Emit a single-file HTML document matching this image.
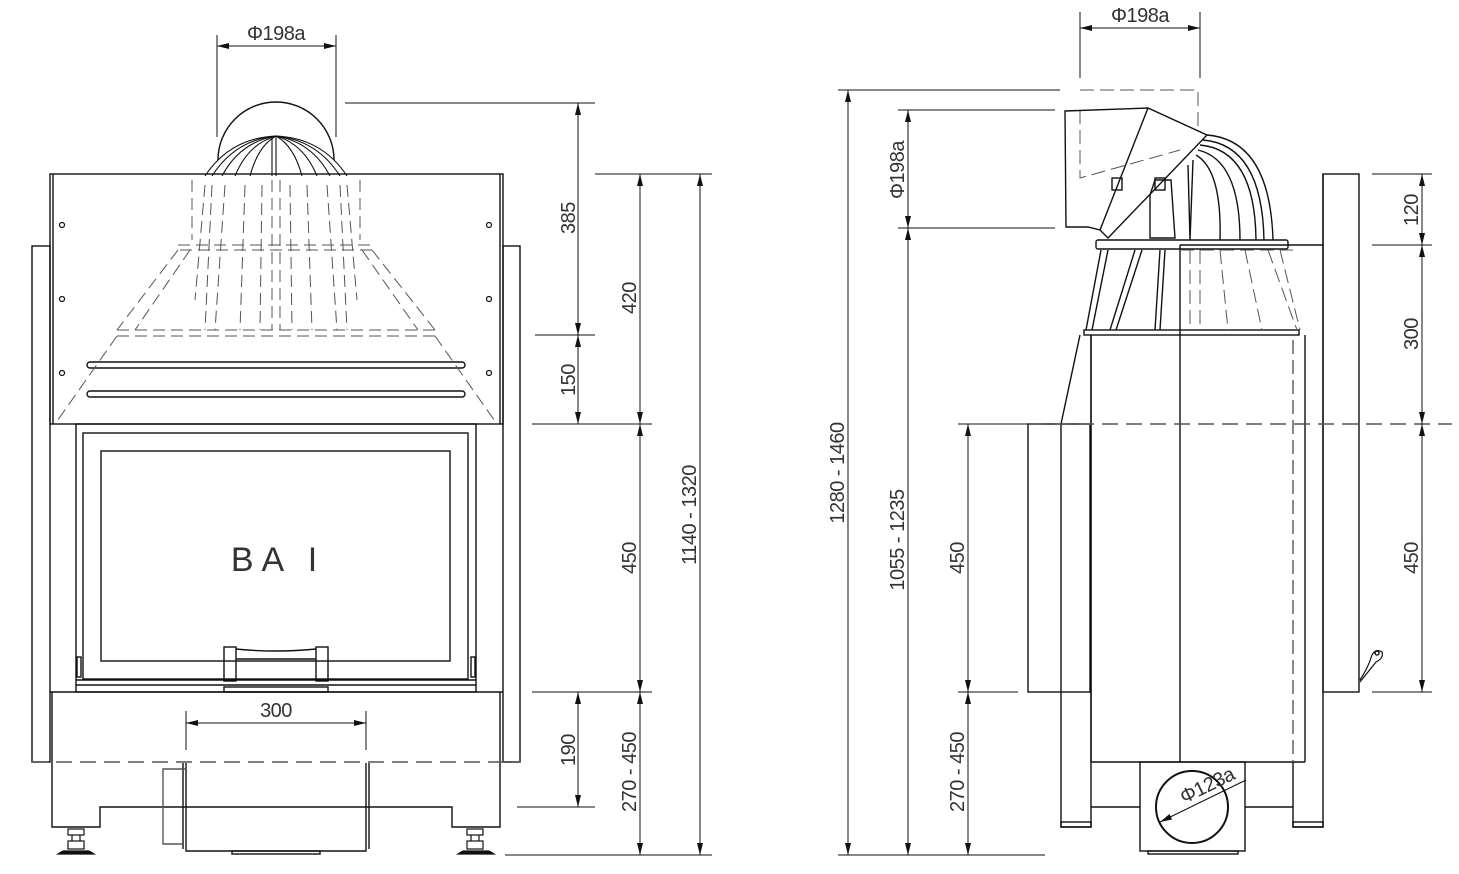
<!DOCTYPE html>
<html><head><meta charset="utf-8"><style>
html,body{margin:0;padding:0;background:#fff}
svg{display:block}
text{font-family:"Liberation Sans",sans-serif;font-size:20px;fill:#333;font-weight:normal;letter-spacing:-0.5px}
</style></head><body>
<svg width="1459" height="874" viewBox="0 0 1459 874" xmlns="http://www.w3.org/2000/svg">
<defs>
<marker id="a" viewBox="0 0 12 6" refX="12" refY="3" markerWidth="12" markerHeight="6" orient="auto-start-reverse" markerUnits="userSpaceOnUse"><path d="M0,0 L12,3 L0,6z" fill="#111"/></marker>
</defs>
<g fill="none" stroke="#111" stroke-width="1.4">
<rect x="32" y="246" width="18" height="516"/>
<rect x="503" y="246" width="17" height="516"/>
<rect x="50" y="174" width="453" height="250"/>
<line x1="53" y1="174" x2="53" y2="424"/><line x1="500" y1="174" x2="500" y2="424"/>
<g stroke-width="1.2">
<circle cx="62" cy="225" r="2.5"/><circle cx="62" cy="299" r="2.5"/><circle cx="62" cy="373" r="2.5"/>
<circle cx="489" cy="225" r="2.5"/><circle cx="489" cy="299" r="2.5"/><circle cx="489" cy="373" r="2.5"/>
</g>
<rect x="87" y="362" width="378" height="6" rx="3"/>
<rect x="87" y="391" width="378" height="6" rx="3"/>
<path d="M218,160 A58,58 0 0 1 334,160"/>
<g stroke-width="1.1">
<path d="M205,176 Q230,138 276,136 Q322,138 347,176"/>
<path d="M212,176 Q235,140 276,136"/><path d="M340,176 Q317,140 276,136"/>
<path d="M222,176 Q240,142 276,136"/><path d="M330,176 Q312,142 276,136"/>
<path d="M235,176 Q248,144 276,136"/><path d="M317,176 Q304,144 276,136"/>
<path d="M250,176 Q258,146 276,136"/><path d="M302,176 Q294,146 276,136"/>
<line x1="276" y1="136" x2="276" y2="176"/><line x1="272" y1="138" x2="272" y2="176"/>
</g>
<g stroke="#555" stroke-width="1" stroke-dasharray="12,6">
<path d="M192,180 L192,240 M360,180 L360,240"/>
<path d="M178,245 L372,245 M180,250 L375,250"/>
<path d="M117,330 L435,330 M117,336 L435,336"/>
<path d="M178,250 L117,330 M372,250 L435,330"/>
<path d="M190,250 L135,330 M362,250 L418,330"/>
<path d="M117,336 L55,424 M435,336 L497,424"/>
<path d="M205,185 L195,300 M347,185 L357,300 M212,185 L205,330 M340,185 L347,330"/>
<path d="M225,185 L215,330 M327,185 L337,330 M245,185 L240,330 M307,185 L312,330"/>
<path d="M262,185 L260,330 M290,185 L292,330 M272,180 L272,330 M280,180 L280,330"/>
</g>
<rect x="76" y="424" width="400" height="268"/>
<rect x="83" y="433" width="385" height="246"/>
<rect x="101" y="451" width="349" height="210"/>
<line x1="76" y1="680" x2="476" y2="680"/><line x1="76" y1="685" x2="476" y2="685"/>
<rect x="224" y="647" width="12" height="34"/><rect x="316" y="647" width="12" height="34"/>
<path d="M236,649 Q276,653 316,649 M236,659 L316,659"/>
<rect x="224" y="687" width="104" height="5"/>
<rect x="77" y="657" width="4" height="20"/><rect x="471" y="657" width="4" height="20"/>
<path d="M52,692 L52,827 L100,827 L100,807 L452,807 L452,827 L500,827 L500,692"/>
<line x1="50" y1="692" x2="503" y2="692"/>
<path d="M186,763 L186,851 L366,851 L366,763"/>
<path d="M183,763 L183,849 M369,763 L369,849"/>
<path d="M186,769 L163,769 L163,844 L183,844" stroke="#555"/>
<rect x="232" y="851" width="88" height="3"/>
<g stroke-width="1.2">
<rect x="68" y="829" width="16" height="6"/><rect x="68" y="841" width="16" height="8"/><line x1="72" y1="835" x2="72" y2="841"/><line x1="80" y1="835" x2="80" y2="841"/>
<path d="M58,854 L94,854 L89,851 L63,851z" fill="#111"/>
<rect x="467" y="829" width="16" height="6"/><rect x="467" y="841" width="16" height="8"/><line x1="471" y1="835" x2="471" y2="841"/><line x1="479" y1="835" x2="479" y2="841"/>
<path d="M458,854 L494,854 L489,851 L463,851z" fill="#111"/>
</g>
<line x1="32" y1="762" x2="520" y2="762" stroke="#555" stroke-dasharray="16,8"/>
<g stroke-width="1">
<line x1="217" y1="35" x2="217" y2="137"/><line x1="336" y1="35" x2="336" y2="137"/>
<line x1="217" y1="46" x2="336" y2="46" marker-start="url(#a)" marker-end="url(#a)"/>
<line x1="186" y1="711" x2="186" y2="750"/><line x1="366" y1="711" x2="366" y2="750"/>
<line x1="186" y1="723" x2="366" y2="723" marker-start="url(#a)" marker-end="url(#a)"/>
<line x1="345" y1="103" x2="595" y2="103"/>
<line x1="595" y1="174" x2="712" y2="174"/>
<line x1="535" y1="335" x2="595" y2="335"/>
<line x1="532" y1="424" x2="652" y2="424"/>
<line x1="532" y1="692" x2="652" y2="692"/>
<line x1="517" y1="807" x2="595" y2="807"/>
<line x1="505" y1="855" x2="712" y2="855"/>
<line x1="578" y1="103" x2="578" y2="335" marker-start="url(#a)" marker-end="url(#a)"/>
<line x1="578" y1="335" x2="578" y2="424" marker-start="url(#a)" marker-end="url(#a)"/>
<line x1="578" y1="692" x2="578" y2="807" marker-start="url(#a)" marker-end="url(#a)"/>
<line x1="640" y1="174" x2="640" y2="424" marker-start="url(#a)" marker-end="url(#a)"/>
<line x1="640" y1="424" x2="640" y2="692" marker-start="url(#a)" marker-end="url(#a)"/>
<line x1="640" y1="692" x2="640" y2="855" marker-start="url(#a)" marker-end="url(#a)"/>
<line x1="700" y1="174" x2="700" y2="855" marker-start="url(#a)" marker-end="url(#a)"/>
</g>
<rect x="1028" y="424" width="62" height="268"/>
<path d="M1061,424 L1080,335 M1061,424 L1061,827 L1091,827 L1091,335"/>
<rect x="1061" y="822" width="30" height="5"/>
<rect x="1084" y="330" width="215" height="5"/>
<line x1="1091" y1="335" x2="1091" y2="762"/>
<line x1="1180" y1="245" x2="1180" y2="762"/>
<line x1="1305" y1="335" x2="1305" y2="762"/>
<line x1="1091" y1="762" x2="1305" y2="762"/>
<path d="M1091,807 L1140,807 M1245,807 L1293,807"/>
<rect x="1140" y="762" width="105" height="89"/>
<rect x="1148" y="851" width="90" height="3"/>
<circle cx="1192" cy="807" r="36" stroke-width="2"/>
<line x1="1160" y1="822" x2="1246" y2="780" stroke-width="1" marker-start="url(#a)"/>
<path d="M1293,762 L1293,827 L1323,827 L1323,174"/>
<rect x="1293" y="822" width="30" height="5"/>
<line x1="1293" y1="340" x2="1293" y2="762" stroke="#555" stroke-dasharray="14,6"/>
<rect x="1323" y="174" width="36" height="518"/>
<line x1="1180" y1="245" x2="1323" y2="245"/>
<path d="M1360,680 Q1368,668 1372,655 Q1376,648 1382,652 Q1384,658 1376,662 Q1368,672 1360,682" stroke-width="1.2"/>
<circle cx="1377" cy="653" r="2"/>
<rect x="1096" y="240" width="192" height="9" rx="2"/>
<path d="M1086,330 L1101,250 M1092,330 L1108,250 M1110,330 L1135,250 M1116,330 L1142,250 M1155,330 L1160,250 M1160,330 L1165,250"/>
<g stroke="#555" stroke-width="1" stroke-dasharray="14,6">
<path d="M1180,250 L1293,250 M1190,250 L1190,330 M1200,250 L1200,330 M1220,250 L1228,330 M1245,250 L1262,330 M1268,250 L1297,330 M1280,250 L1300,330"/>
<path d="M1080,110 L1080,178 L1180,150 M1080,90 L1198,90 L1198,130"/>
</g>
<path d="M1065,111 L1148,108 L1207,135 L1108,238 L1100,230 L1088,227 L1066,227z"/>
<path d="M1148,108 L1100,230"/>
<path d="M1155,180 L1171,180 L1175,238 L1150,238 L1150,195z"/>
<rect x="1112" y="178" width="10" height="12"/><rect x="1155" y="178" width="10" height="12"/>
<path d="M1207,135 Q1270,140 1273,240"/>
<path d="M1203,140 Q1262,145 1264,240 M1200,145 Q1255,150 1256,240 M1198,150 Q1240,160 1240,240 M1196,155 Q1222,170 1220,240 M1193,160 L1190,240 M1188,165 L1190,240"/>
<line x1="1030" y1="424" x2="1452" y2="424" stroke="#555" stroke-dasharray="16,8"/>
<g stroke-width="1">
<line x1="1080" y1="12" x2="1080" y2="78"/><line x1="1200" y1="12" x2="1200" y2="78"/>
<line x1="1080" y1="28" x2="1200" y2="28" marker-start="url(#a)" marker-end="url(#a)"/>
<line x1="838" y1="90" x2="1060" y2="90"/>
<line x1="898" y1="110" x2="1055" y2="110"/>
<line x1="898" y1="228" x2="1055" y2="228"/>
<line x1="958" y1="424" x2="1030" y2="424"/>
<line x1="958" y1="692" x2="1018" y2="692"/>
<line x1="838" y1="855" x2="1045" y2="855"/>
<line x1="1372" y1="174" x2="1432" y2="174"/>
<line x1="1372" y1="245" x2="1432" y2="245"/>
<line x1="1372" y1="692" x2="1432" y2="692"/>
<line x1="848" y1="90" x2="848" y2="855" marker-start="url(#a)" marker-end="url(#a)"/>
<line x1="908" y1="110" x2="908" y2="228" marker-start="url(#a)" marker-end="url(#a)"/>
<line x1="908" y1="228" x2="908" y2="855" marker-start="url(#a)" marker-end="url(#a)"/>
<line x1="968" y1="424" x2="968" y2="692" marker-start="url(#a)" marker-end="url(#a)"/>
<line x1="968" y1="692" x2="968" y2="855" marker-start="url(#a)" marker-end="url(#a)"/>
<line x1="1422" y1="174" x2="1422" y2="245" marker-start="url(#a)" marker-end="url(#a)"/>
<line x1="1422" y1="245" x2="1422" y2="424" marker-start="url(#a)" marker-end="url(#a)"/>
<line x1="1422" y1="424" x2="1422" y2="692" marker-start="url(#a)" marker-end="url(#a)"/>
</g>
</g>
<text transform="translate(1184,804) rotate(-26)">Φ123a</text>
<text x="276" y="40" text-anchor="middle">Φ198a</text>
<text x="276" y="717" text-anchor="middle">300</text>
<text x="278" y="571" text-anchor="middle" style="font-size:34px;letter-spacing:8px">BA I</text>
<text x="1140" y="22" text-anchor="middle">Φ198a</text>
<g text-anchor="middle">
<text transform="translate(575,218) rotate(-90)">385</text>
<text transform="translate(575,380) rotate(-90)">150</text>
<text transform="translate(575,750) rotate(-90)">190</text>
<text transform="translate(636,298) rotate(-90)">420</text>
<text transform="translate(636,558) rotate(-90)">450</text>
<text transform="translate(636,772) rotate(-90)">270 - 450</text>
<text transform="translate(696,515) rotate(-90)">1140 - 1320</text>
<text transform="translate(844,473) rotate(-90)">1280 - 1460</text>
<text transform="translate(904,170) rotate(-90)">Φ198a</text>
<text transform="translate(904,540) rotate(-90)">1055 - 1235</text>
<text transform="translate(964,558) rotate(-90)">450</text>
<text transform="translate(964,772) rotate(-90)">270 - 450</text>
<text transform="translate(1418,210) rotate(-90)">120</text>
<text transform="translate(1418,334) rotate(-90)">300</text>
<text transform="translate(1418,558) rotate(-90)">450</text>
</g>
</svg>
</body></html>
